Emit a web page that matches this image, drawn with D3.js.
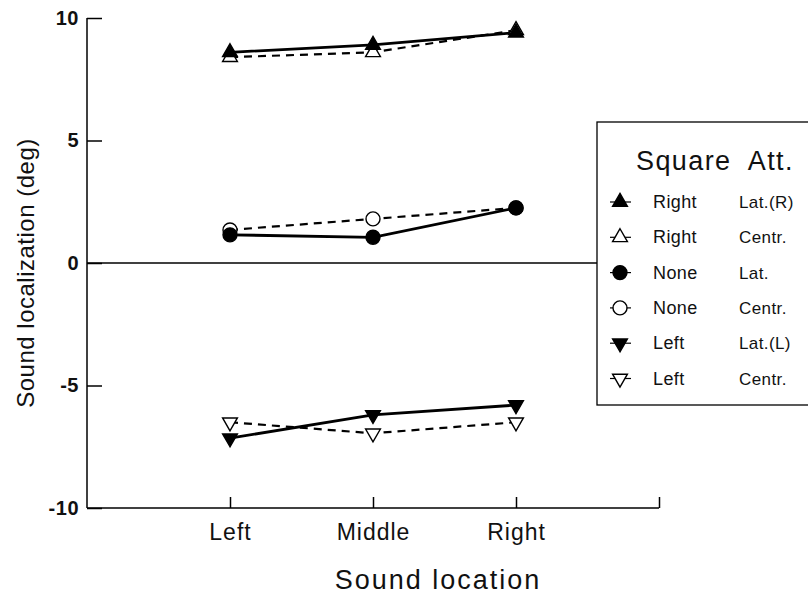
<!DOCTYPE html>
<html>
<head>
<meta charset="utf-8">
<script src="https://cdn.jsdelivr.net/npm/d3@7"></script>
<style>
  body { margin: 0; background: #fff; }
  svg { display: block; font-family: "Liberation Sans", Arial, Helvetica, sans-serif; }
</style>
</head>
<body>
<svg id="chart" width="808" height="596"></svg>
<script>
const categories = ["Left", "Middle", "Right"];
const yTicks = [-10, -5, 0, 5, 10];

// sound localization (deg) per square / attention condition
const rightLat = [8.6, 8.9, 9.4];
const rightCentr = [8.4, 8.6, 9.5];
const noneLat = [1.15, 1.05, 2.25];
const noneCentr = [1.35, 1.8, 2.25];
const leftLat = [-7.15, -6.2, -5.8];
const leftCentr = [-6.5, -6.95, -6.5];

const seriesNames = ["Right", "Right", "None", "None", "Left", "Left"];
const attNames = ["Lat.(R)", "Centr.", "Lat.", "Centr.", "Lat.(L)", "Centr."];

const series = [
  { values: rightCentr, shape: "up", filled: false, dashed: true },
  { values: rightLat, shape: "up", filled: true, dashed: false },
  { values: noneCentr, shape: "circle", filled: false, dashed: true },
  { values: noneLat, shape: "circle", filled: true, dashed: false },
  { values: leftCentr, shape: "down", filled: false, dashed: true },
  { values: leftLat, shape: "down", filled: true, dashed: false }
];
// legend order
const legendOrder = [1, 0, 3, 2, 5, 4];

const svg = d3.select("#chart");

const x = d3.scaleLinear().domain([0, 4]).range([87, 659]);
const y = d3.scaleLinear().domain([-10, 10]).range([508, 18]);

// axes
const xAxis = d3.axisBottom(x)
  .tickValues([1, 2, 3, 4])
  .tickSize(-11)
  .tickPadding(16)
  .tickFormat((d) => categories[d - 1] || "");

const gx = svg.append("g").attr("transform", "translate(0,508)").call(xAxis);
gx.select(".domain").attr("d", "M87,0H659").attr("stroke", "#000").attr("stroke-width", 1.5);
gx.selectAll(".tick line").attr("stroke-width", 1.5);
gx.selectAll(".tick text")
  .attr("font-size", 23)
  .attr("letter-spacing", 1)
  .attr("fill", "#111");

const yAxis = d3.axisLeft(y)
  .tickValues(yTicks)
  .tickSize(-15)
  .tickPadding(8)
  .tickFormat((d) => String(d));

const gy = svg.append("g").attr("transform", "translate(87,0)").call(yAxis);
gy.select(".domain").attr("d", "M0,18V508").attr("stroke", "#000").attr("stroke-width", 1.5);
gy.selectAll(".tick line").attr("stroke-width", 1.5);
gy.selectAll(".tick text")
  .attr("font-size", 20)
  .attr("font-weight", "bold")
  .attr("letter-spacing", 0.5)
  .attr("fill", "#111");

// zero line
svg.append("line")
  .attr("x1", 87).attr("x2", 808)
  .attr("y1", y(0)).attr("y2", y(0))
  .attr("stroke", "#000").attr("stroke-width", 1.3);

// axis titles
svg.append("text")
  .attr("x", 438).attr("y", 589)
  .attr("text-anchor", "middle")
  .attr("font-size", 27)
  .attr("letter-spacing", 2)
  .attr("fill", "#111")
  .text("Sound location");

svg.append("text")
  .attr("transform", "translate(34,273) rotate(-90)")
  .attr("text-anchor", "middle")
  .attr("font-size", 24)
  .attr("letter-spacing", 0.5)
  .attr("fill", "#111")
  .text("Sound localization (deg)");

// markers
const triUp = d3.symbol().type(d3.symbolTriangle).size(95);

function drawMarker(g, shape, filled, cx, cy) {
  let m;
  if (shape === "circle") {
    m = g.append("circle").attr("cx", cx).attr("cy", cy).attr("r", 7);
  } else {
    m = g.append("path")
      .attr("d", triUp())
      .attr("transform", `translate(${cx},${cy})` + (shape === "down" ? " rotate(180)" : ""));
  }
  m.attr("fill", filled ? "#000" : "#fff")
    .attr("stroke", "#000")
    .attr("stroke-width", 1.4);
}

const line = d3.line()
  .x((d, i) => x(i + 1))
  .y((d) => y(d));

series.forEach((s) => {
  svg.append("path")
    .datum(s.values)
    .attr("d", line)
    .attr("fill", "none")
    .attr("stroke", "#000")
    .attr("stroke-width", s.dashed ? 2.2 : 2.8)
    .attr("stroke-dasharray", s.dashed ? "8,6" : null);
});

series.forEach((s) => {
  const g = svg.append("g");
  s.values.forEach((v, i) => drawMarker(g, s.shape, s.filled, x(i + 1), y(v)));
});

// legend
const legend = svg.append("g");
legend.append("rect")
  .attr("x", 597).attr("y", 122)
  .attr("width", 230).attr("height", 283)
  .attr("fill", "#fff")
  .attr("stroke", "#000")
  .attr("stroke-width", 1.3);

legend.append("text")
  .attr("x", 636).attr("y", 170)
  .attr("font-size", 27)
  .attr("letter-spacing", 1.4)
  .attr("fill", "#111")
  .attr("xml:space", "preserve")
  .text("Square  Att.");

legendOrder.forEach((si, r) => {
  const s = series[si];
  const cy = 202 + r * 35.3;
  legend.append("line")
    .attr("x1", 610).attr("x2", 631)
    .attr("y1", cy).attr("y2", cy)
    .attr("stroke", "#000").attr("stroke-width", 1.2);
  drawMarker(legend, s.shape, s.filled, 620, cy);
  legend.append("text")
    .attr("x", 653).attr("y", cy + 6)
    .attr("font-size", 18)
    .attr("letter-spacing", 0.4)
    .attr("fill", "#111")
    .text(seriesNames[r]);
  legend.append("text")
    .attr("x", 739).attr("y", cy + 6)
    .attr("font-size", 17)
    .attr("letter-spacing", 0.4)
    .attr("fill", "#111")
    .text(attNames[r]);
});
</script>
</body>
</html>
